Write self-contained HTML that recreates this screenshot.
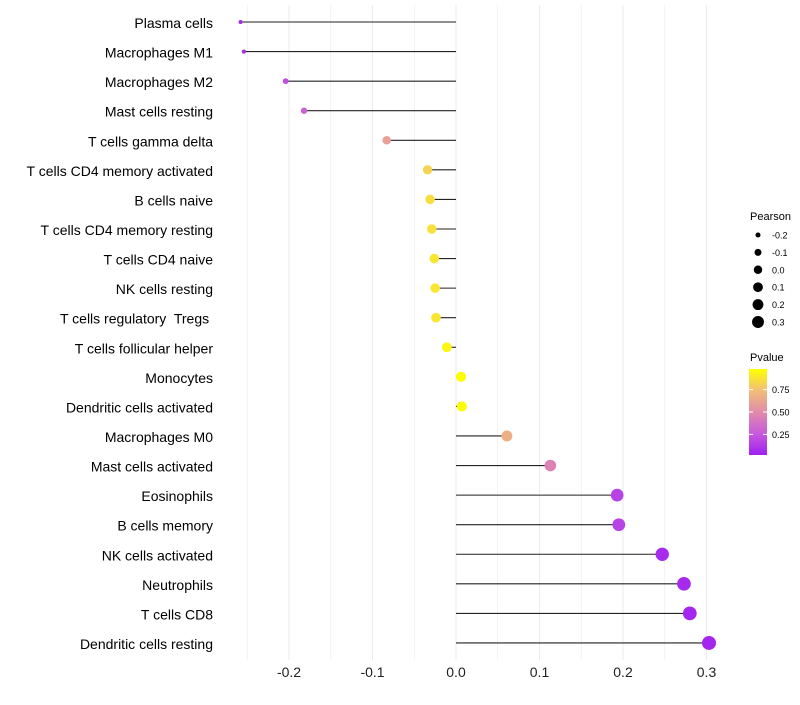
<!DOCTYPE html>
<html><head><meta charset="utf-8"><style>
body{margin:0;background:#fff;font-family:"Liberation Sans",sans-serif}
svg text{font-family:"Liberation Sans",sans-serif;white-space:pre}
</style></head><body>
<svg id="c" width="800" height="700"></svg>
<script>
const categories=["Plasma cells","Macrophages M1","Macrophages M2","Mast cells resting","T cells gamma delta","T cells CD4 memory activated","B cells naive","T cells CD4 memory resting","T cells CD4 naive","NK cells resting","T cells regulatory  Tregs ","T cells follicular helper","Monocytes","Dendritic cells activated","Macrophages M0","Mast cells activated","Eosinophils","B cells memory","NK cells activated","Neutrophils","T cells CD8","Dendritic cells resting"];
const pearson=[-0.258,-0.254,-0.204,-0.182,-0.083,-0.034,-0.031,-0.029,-0.026,-0.025,-0.024,-0.011,0.006,0.007,0.061,0.113,0.193,0.195,0.247,0.273,0.280,0.303];
const pvalue=[0.04,0.05,0.2,0.28,0.6,0.83,0.87,0.88,0.9,0.9,0.9,0.96,0.99,0.99,0.68,0.45,0.15,0.15,0.05,0.04,0.03,0.02];
const xTicks=[-0.2,-0.1,0.0,0.1,0.2,0.3];
const xTickLabels=["-0.2","-0.1","0.0","0.1","0.2","0.3"];
const sizeLegend=[-0.2,-0.1,0.0,0.1,0.2,0.3];
const sizeLegendLabels=["-0.2","-0.1","0.0","0.1","0.2","0.3"];
const pTicks=[0.25,0.5,0.75];
const pTickLabels=["0.25","0.50","0.75"];

const NS="http://www.w3.org/2000/svg",svg=document.getElementById('c');
function el(t,a,p){const e=document.createElementNS(NS,t);for(const k in a)e.setAttribute(k,a[k]);(p||svg).appendChild(e);return e;}
const x=v=>456+v*835;
const y=i=>22+i*29.57;
const r=v=>Math.sqrt(Math.max(1,24.9+80.4*v));
const stops=[[0,[160,32,240]],[0.25,[200,90,220]],[0.5,[225,140,170]],[0.75,[242,190,120]],[1,[255,255,0]]];
function col(p){for(let i=1;i<stops.length;i++){if(p<=stops[i][0]){const a=stops[i-1],b=stops[i],t=(p-a[0])/(b[0]-a[0]);return 'rgb('+a[1].map((c,j)=>Math.round(c+(b[1][j]-c)*t)).join(',')+')';}}return 'rgb(255,255,0)';}
for(let v=-0.25;v<=0.301;v+=0.05){const g=el('line',{x1:x(v),x2:x(v),y1:5,y2:660,stroke:'#ebebeb','stroke-width':Math.abs(Math.round(v*20)%2)==1?0.6:1});
}
xTicks.forEach((v,i)=>{const t=el('text',{x:x(v),y:677,'font-size':14,'text-anchor':'middle',fill:'#222'});t.textContent=xTickLabels[i];
});
categories.forEach((c,i)=>{
const t=el('text',{x:213,y:y(i)+6,'font-size':14,'text-anchor':'end',fill:'#000','xml:space':'preserve'});t.textContent=c;

const l=el('line',{x1:x(0),x2:x(pearson[i]),y1:y(i),y2:y(i),stroke:'#222','stroke-width':1.1});

const d=el('circle',{cx:x(pearson[i]),cy:y(i),r:r(pearson[i]),fill:col(pvalue[i])});

});
let t=el('text',{x:750,y:220,'font-size':11});t.textContent='Pearson';

sizeLegend.forEach((v,i)=>{const cy=235+i*17.4;
const c=el('circle',{cx:758,cy:cy,r:r(v)*0.85,fill:'#000'});
const tt=el('text',{x:772,y:cy+3.5,'font-size':9});tt.textContent=sizeLegendLabels[i];
});
t=el('text',{x:750,y:361,'font-size':11});t.textContent='Pvalue';

const defs=el('defs',{});const lg=el('linearGradient',{id:'g',x1:0,y1:1,x2:0,y2:0},defs);
stops.forEach(s=>el('stop',{offset:s[0],'stop-color':'rgb('+s[1].join(',')+')'},lg));
const cb=el('rect',{x:749,y:369,width:18,height:86,fill:'url(#g)'});
const py=p=>455-(p-0.02)/0.96*86;
pTicks.forEach((p,i)=>{el('line',{x1:749,x2:753,y1:py(p),y2:py(p),stroke:'#fff'});el('line',{x1:763,x2:767,y1:py(p),y2:py(p),stroke:'#fff'});
const tt=el('text',{x:772,y:py(p)+3.5,'font-size':9});tt.textContent=pTickLabels[i];
});
</script>
</body></html>
